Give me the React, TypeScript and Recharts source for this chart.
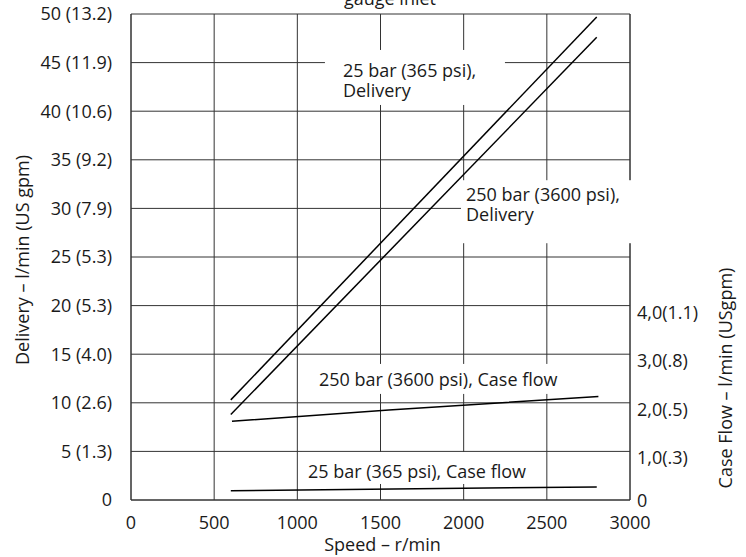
import {
  LineChart,
  Line,
  XAxis,
  YAxis,
  CartesianGrid,
  ReferenceDot,
  Customized,
} from "recharts";

// readings, speed in r/min
const delivery25 = [
  { speed: 600, flow: 10.3 },
  { speed: 2800, flow: 49.7 },
];
const delivery250 = [
  { speed: 600, flow: 8.8 },
  { speed: 2800, flow: 47.6 },
];
// case flow is on the right axis (l/min)
const caseFlow250 = [
  { speed: 607, flow: 1.62 },
  { speed: 1550, flow: 1.85 },
  { speed: 2810, flow: 2.13 },
];
const caseFlow25 = [
  { speed: 600, flow: 0.19 },
  { speed: 2800, flow: 0.27 },
];

const speedTicks = [0, 500, 1000, 1500, 2000, 2500, 3000];
const deliveryTicks = [0, 5, 10, 15, 20, 25, 30, 35, 40, 45, 50];
const deliveryLabels = [
  "0",
  "5 (1.3)",
  "10 (2.6)",
  "15 (4.0)",
  "20 (5.3)",
  "25 (5.3)",
  "30 (7.9)",
  "35 (9.2)",
  "40 (10.6)",
  "45 (11.9)",
  "50 (13.2)",
];
const caseTicks = [0, 1, 2, 3, 4];
const caseLabels = ["0", "1,0(.3)", "2,0(.5)", "3,0(.8)", "4,0(1.1)"];

const notes = [
  { x: 1166, y: 46.3, w: 180, h: 55, dx: 18, dy: 20, lines: ["25 bar (365 psi),", "Delivery"] },
  { x: 1984, y: 32.9, w: 184, h: 63, dx: 5, dy: 14, lines: ["250 bar (3600 psi),", "Delivery"] },
  { x: 1094, y: 14.0, w: 254, h: 30, dx: 6, dy: 15, lines: ["250 bar (3600 psi), Case flow"] },
  { x: 1028, y: 4.94, w: 233, h: 32, dx: 6, dy: 19, lines: ["25 bar (365 psi), Case flow"] },
];

const font = "'Open Sans', sans-serif";
const fs = 18;
const ink = "#1a1a1a";

const NoteBox = (n: (typeof notes)[number]) => (props: any) => {
  const { x, y } = props.viewBox;
  return (
    <g>
      <rect x={x} y={y} width={n.w} height={n.h} fill="#fff" />
      <text
        x={x + n.dx}
        y={y + n.dy}
        dominantBaseline="central"
        fontFamily={font}
        fontSize={fs}
        fill={ink}
      >
        {n.lines.map((t, i) => (
          <tspan key={i} x={x + n.dx} dy={i === 0 ? 0 : 20}>
            {t}
          </tspan>
        ))}
      </text>
    </g>
  );
};

const CaseTick = (props: any) => {
  const { x, y, payload, index } = props;
  return (
    <text
      x={x}
      y={y + (index > 0 ? 6 : 0)}
      dominantBaseline="central"
      fontFamily={font}
      fontSize={fs}
      fill={ink}
    >
      {caseLabels[index] ?? payload.value}
    </text>
  );
};

export default function App() {
  return (
    <div style={{ position: "absolute", left: 0, top: 0, background: "#fff" }}>
      <LineChart
        width={746}
        height={557}
        margin={{ top: 14, right: 0, bottom: 0, left: 0 }}
      >
        <CartesianGrid yAxisId="left" stroke="#333" strokeWidth={1} />
        <XAxis
          dataKey="speed"
          type="number"
          domain={[0, 3000]}
          ticks={speedTicks}
          height={57}
          tickLine={false}
          axisLine={{ stroke: "#333" }}
          tickMargin={10}
          tick={{ fontFamily: font, fontSize: fs, fill: ink }}
          label={{
            content: (p: any) => (
              <text
                x={p.viewBox.x + p.viewBox.width / 2 + 2}
                y={p.viewBox.y + 44}
                textAnchor="middle"
                dominantBaseline="central"
                fontFamily={font}
                fontSize={fs}
                fill={ink}
              >
                Speed – r/min
              </text>
            ),
          }}
        />
        <YAxis
          yAxisId="left"
          dataKey="flow"
          type="number"
          domain={[0, 50]}
          ticks={deliveryTicks}
          width={131}
          tickLine={false}
          axisLine={{ stroke: "#333" }}
          tickMargin={13}
          tickFormatter={(v: number) => deliveryLabels[deliveryTicks.indexOf(v)]}
          tick={{ fontFamily: font, fontSize: fs, fill: ink }}
          label={{
            content: () => (
              <text
                x={22}
                y={260}
                transform="rotate(-90 22 260)"
                textAnchor="middle"
                dominantBaseline="central"
                fontFamily={font}
                fontSize={fs}
                fill={ink}
              >
                Delivery – l/min (US gpm)
              </text>
            ),
          }}
        />
        <YAxis
          yAxisId="right"
          orientation="right"
          dataKey="flow"
          type="number"
          domain={[0, 10]}
          ticks={caseTicks}
          width={116}
          tickLine={false}
          axisLine={{ stroke: "#333" }}
          tickMargin={1}
          tick={<CaseTick />}
          label={{
            content: () => (
              <text
                x={725}
                y={378}
                transform="rotate(-90 725 378)"
                textAnchor="middle"
                dominantBaseline="central"
                fontFamily={font}
                fontSize={fs}
                fill={ink}
              >
                Case Flow – l/min (USgpm)
              </text>
            ),
          }}
        />
        <Line yAxisId="left" data={delivery25} dataKey="flow" stroke="#000" strokeWidth={1.5} dot={false} isAnimationActive={false} />
        <Line yAxisId="left" data={delivery250} dataKey="flow" stroke="#000" strokeWidth={1.5} dot={false} isAnimationActive={false} />
        <Line yAxisId="right" data={caseFlow250} dataKey="flow" stroke="#000" strokeWidth={1.5} dot={false} isAnimationActive={false} />
        <Line yAxisId="right" data={caseFlow25} dataKey="flow" stroke="#000" strokeWidth={1.5} dot={false} isAnimationActive={false} />
        {notes.map((n, i) => (
          <ReferenceDot
            key={i}
            yAxisId="left"
            x={n.x}
            y={n.y}
            r={0}
            fill="none"
            stroke="none"
            label={{ content: NoteBox(n) }}
          />
        ))}
        <Customized
          component={() => (
            <text x={390} y={5} textAnchor="middle" fontFamily={font} fontSize={fs} fill={ink}>
              gauge inlet
            </text>
          )}
        />
      </LineChart>
    </div>
  );
}
